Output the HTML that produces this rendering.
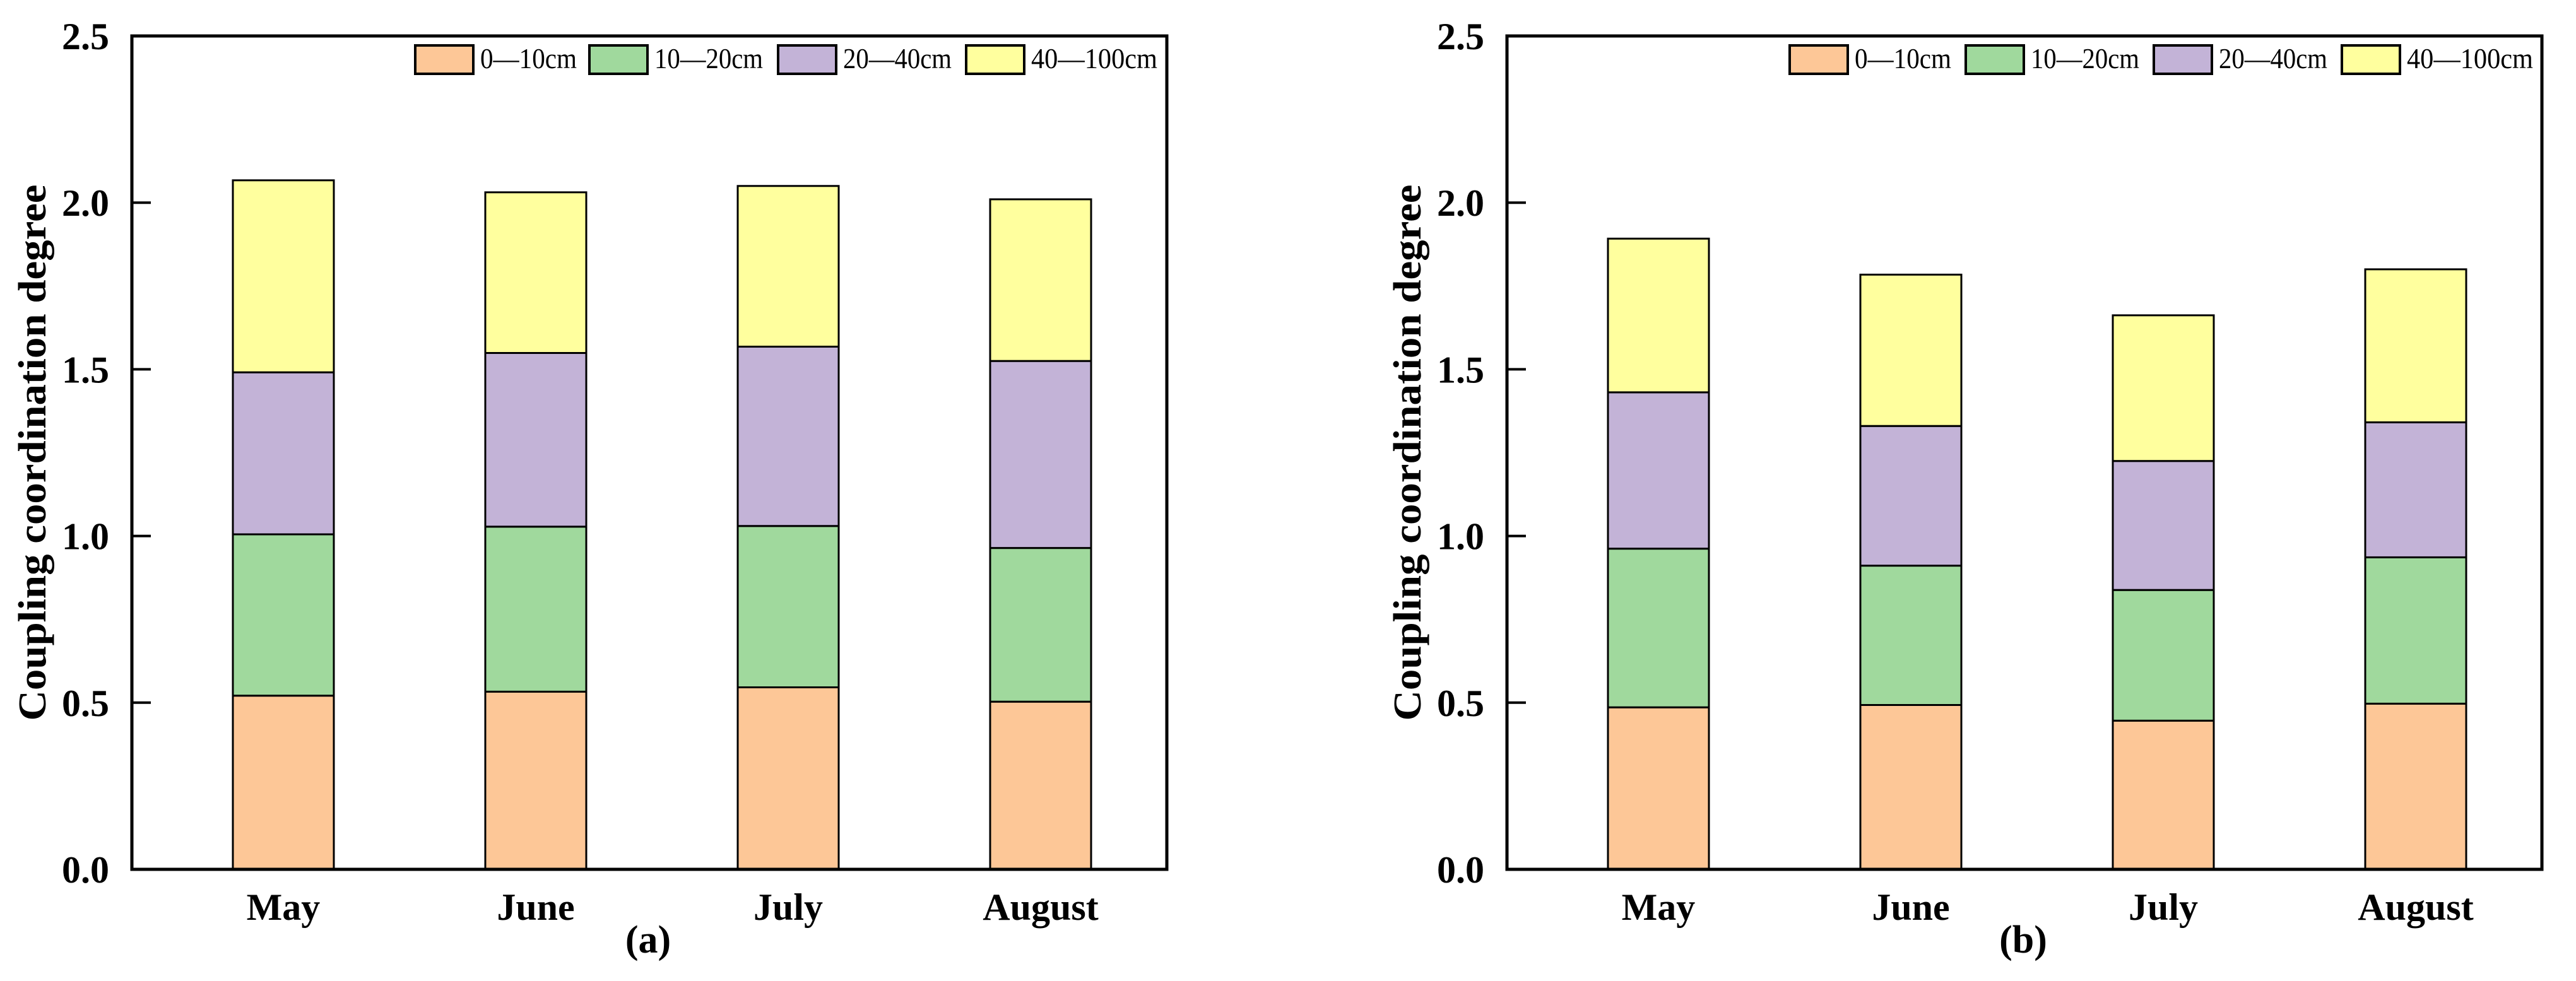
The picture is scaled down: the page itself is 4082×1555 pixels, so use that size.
<!DOCTYPE html>
<html><head><meta charset="utf-8"><style>
html,body{margin:0;padding:0;background:#fff;}
svg{display:block;font-family:"Liberation Serif",serif;}
</style></head><body>
<svg id="chart" width="4082" height="1555" viewBox="0 0 4082 1555" xmlns="http://www.w3.org/2000/svg"></svg>
<script>
const categories = ["May","June","July","August"];
const seriesNames = ["0—10cm","10—20cm","20—40cm","40—100cm"];
const colors = ["#FDC797","#A0D99D","#C3B3D7","#FFFF9E"];
const yTicks = [0,0.5,1.0,1.5,2.0,2.5];
const yTickLabels = ["0.0","0.5","1.0","1.5","2.0","2.5"];
// panel (a) segment values per series
const a_s1 = [0.521,0.533,0.546,0.503];
const a_s2 = [0.484,0.495,0.484,0.461];
const a_s3 = [0.486,0.521,0.538,0.561];
const a_s4 = [0.576,0.482,0.482,0.485];
// panel (b)
const b_s1 = [0.486,0.493,0.446,0.497];
const b_s2 = [0.476,0.418,0.392,0.439];
const b_s3 = [0.469,0.419,0.387,0.405];
const b_s4 = [0.461,0.454,0.437,0.459];

const NS="http://www.w3.org/2000/svg";
const svg=document.getElementById('chart');
function mk(tag,attrs,parent){const e=document.createElementNS(NS,tag);for(const k in attrs)e.setAttribute(k,attrs[k]);(parent||svg).appendChild(e);return e;}

function panel(id,left,right,series,label,legendX,legendSteps){
  const top=57,bottom=1378;
  const g=mk('g',{});
  
  
  const y=v=>bottom-(v/2.5)*(bottom-top);
  const step=(right-left)/4.1;
  const x=i=>left+(i+0.6)*step;
  const bw=160;
  categories.forEach((c,i)=>{
    let base=0;
    series.forEach((s,j)=>{
      const v=s[i];
      const r=mk('rect',{x:x(i)-bw/2,y:y(base+v),width:bw,height:y(base)-y(base+v),fill:colors[j],stroke:'#000','stroke-width':3},g);
      
      
      base+=v;
    });
    const t=mk('text',{x:x(i),y:1458,'text-anchor':'middle','font-size':60,'font-weight':'bold'},g);
    t.textContent=c;
    
    
  });
  const f=mk('rect',{x:left,y:top,width:right-left,height:bottom-top,fill:'none',stroke:'#000','stroke-width':5},g);
  
  
  yTicks.forEach((v,k)=>{
    mk('line',{x1:left,x2:left+30,y1:y(v),y2:y(v),stroke:'#000','stroke-width':4},g);
    const t=mk('text',{x:left-36,y:y(v)+21,'text-anchor':'end','font-size':60,'font-weight':'bold'},g);
    t.textContent=yTickLabels[k];
    
    
  });
  const yt=mk('text',{x:0,y:0,'text-anchor':'middle','font-size':62,'font-weight':'bold',textLength:850,lengthAdjust:'spacingAndGlyphs',transform:`translate(${left-137},${(top+bottom)/2}) rotate(-90)`},g);
  yt.textContent='Coupling coordination degree';
  
  
  const pl=mk('text',{x:left+818,y:1510,'text-anchor':'middle','font-size':62,'font-weight':'bold'},g);
  pl.textContent=label;
  
  
  const widths=[153,172,172,200];
  let lx=legendX;
  seriesNames.forEach((n,j)=>{
    const e=mk('g',{},g);
    
    
    mk('rect',{x:lx,y:72,width:92,height:45,fill:colors[j],stroke:'#000','stroke-width':4},e);
    const t=mk('text',{x:lx+103,y:108,'font-size':46,textLength:widths[j],lengthAdjust:'spacingAndGlyphs'},e);
    t.textContent=n;
    lx+=legendSteps[j]||0;
  });
}
panel('a',209,1849,[a_s1,a_s2,a_s3,a_s4],'(a)',658,[276,299,298]);
panel('b',2388,4028,[b_s1,b_s2,b_s3,b_s4],'(b)',2836,[279,298,298]);
</script>
</body></html>
